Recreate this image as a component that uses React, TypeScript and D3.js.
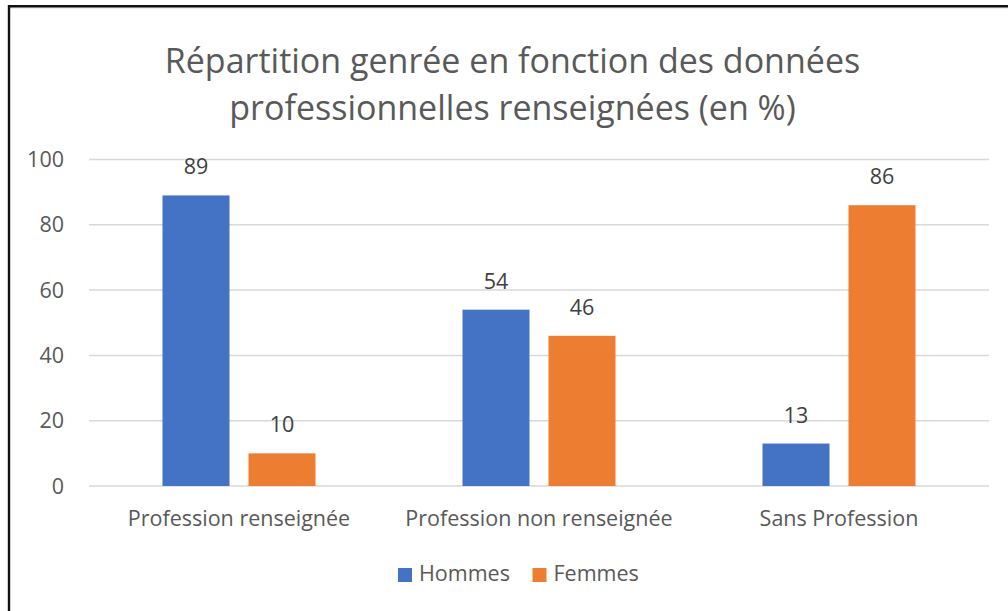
import React from "react";
import { scaleBand, scaleLinear } from "d3";

const title = ["Répartition genrée en fonction des données", "professionnelles renseignées (en %)"];
const categories = ["Profession renseignée", "Profession non renseignée", "Sans Profession"];
const seriesNames = ["Hommes", "Femmes"];
const hommes = [89, 54, 13];
const femmes = [10, 46, 86];
const yTicks = [0, 20, 40, 60, 80, 100];

const colors = ["#4472C4", "#ED7D31"];
const font = "'Open Sans', sans-serif";
const grey = "#595959";

export default function App() {
  const width = 1008;
  const height = 611;
  const plot = { left: 89, right: 989, top: 159.5, bottom: 486 };

  const x0 = scaleBand<string>().domain(categories).range([plot.left, plot.right]);
  const groupPad = 73.5;
  const x1 = scaleBand<string>()
    .domain(seriesNames)
    .range([groupPad, x0.bandwidth() - groupPad])
    .paddingInner(0.221);
  const y = scaleLinear().domain([0, 100]).range([plot.bottom, plot.top]);

  const values = [hommes, femmes];

  return (
    <svg
      width={width}
      height={height}
      style={{ position: "absolute", left: 0, top: 0, background: "#fff" }}
    >
      <rect x={0} y={0} width={width} height={height} fill="#fff" />
      {/* outer frame */}
      <line x1={8} x2={width} y1={8} y2={8} stroke="#e6e6e6" strokeWidth={1.5} />
      <line x1={8} x2={width} y1={6.2} y2={6.2} stroke="#111" strokeWidth={2.4} />
      <line x1={9} x2={9} y1={5} y2={height} stroke="#111" strokeWidth={2.4} />

      {/* title */}
      {title.map((t, i) => (
        <text
          key={t}
          x={512.5}
          y={73 + i * 47}
          textAnchor="middle"
          fontFamily={font}
          fontSize={34}
          fill={grey}
        >
          {t}
        </text>
      ))}

      {/* grid + y ticks */}
      {yTicks.map((t) => (
        <g key={t}>
          <line
            x1={plot.left}
            x2={plot.right}
            y1={y(t)}
            y2={y(t)}
            stroke="#d9d9d9"
            strokeWidth={1.5}
          />
          <text
            x={64}
            y={y(t) + 7.5}
            textAnchor="end"
            fontFamily={font}
            fontSize={21.5}
            fill={grey}
          >
            {t}
          </text>
        </g>
      ))}

      {/* bars */}
      {categories.map((c, ci) => (
        <g key={c} transform={`translate(${x0(c)},0)`}>
          {seriesNames.map((s, si) => {
            const v = values[si][ci];
            const bx = x1(s) ?? 0;
            return (
              <g key={s}>
                <rect
                  x={bx}
                  y={y(v)}
                  width={x1.bandwidth()}
                  height={y(0) - y(v)}
                  fill={colors[si]}
                />
                <text
                  x={bx + x1.bandwidth() / 2}
                  y={y(v) - 21}
                  textAnchor="middle"
                  fontFamily={font}
                  fontSize={21.5}
                  fill="#404040"
                >
                  {v}
                </text>
              </g>
            );
          })}
          <text
            x={x0.bandwidth() / 2}
            y={526}
            textAnchor="middle"
            fontFamily={font}
            fontSize={21.5}
            fill={grey}
          >
            {c}
          </text>
        </g>
      ))}

      {/* legend */}
      {seriesNames.map((s, i) => {
        const lx = [398, 532.5][i];
        return (
          <g key={s}>
            <rect x={lx} y={568} width={14} height={14} fill={colors[i]} />
            <text x={lx + 21} y={581} fontFamily={font} fontSize={21.5} fill={grey}>
              {s}
            </text>
          </g>
        );
      })}
    </svg>
  );
}
